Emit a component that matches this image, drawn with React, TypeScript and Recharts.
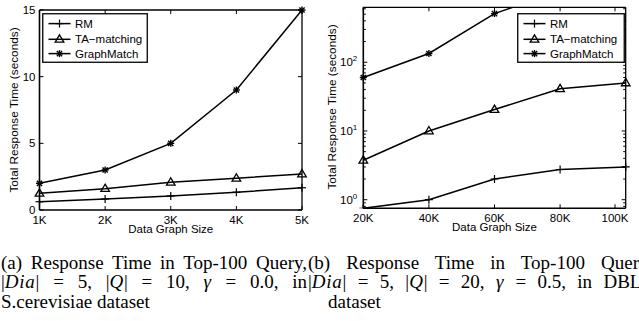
import React from 'react';
import { LineChart, Line, XAxis, YAxis, Legend, ReferenceLine } from 'recharts';

// ---------- data ----------
const seriesNames = ['RM', 'TA\u2212matching', 'GraphMatch'];

const sizesA = [1000, 2000, 3000, 4000, 5000];
const rmA = [0.62, 0.83, 1.05, 1.33, 1.67];
const taA = [1.25, 1.6, 2.08, 2.38, 2.7];
const gmA = [2.0, 3.0, 5.0, 9.0, 15.0];
const yTicksA = [0, 5, 10, 15];

const sizesB = [20000, 40000, 60000, 80000, 100000];
const rmB = [0.75, 1.0, 2.0, 2.75, 3.0];
const taB = [3.75, 10, 20.5, 41, 50];
const gmB = [60, 134, 510, 1100, 2000];
const yMajorB = [1, 10, 100];
const yMinorB = [0.8, 0.9, 2, 3, 4, 5, 6, 7, 8, 9, 20, 30, 40, 50, 60, 70, 80, 90, 200, 300, 400, 500, 600];

const dataA = sizesA.map((x, i) => ({ x, rm: rmA[i], ta: taA[i], gm: gmA[i] }));
const dataB = sizesB.map((x, i) => ({ x, rm: rmB[i], ta: taB[i], gm: gmB[i] }));

const FONT = '"Liberation Sans", Arial, Helvetica, sans-serif';
const SERIF = '"Liberation Serif", "Times New Roman", serif';

// ---------- markers ----------
const Plus = ({ cx, cy }: any) => (
  <g stroke="#000" strokeWidth={1.2}>
    <line x1={cx - 4} x2={cx + 4} y1={cy} y2={cy} />
    <line x1={cx} x2={cx} y1={cy - 4} y2={cy + 4} />
  </g>
);
const Tri = ({ cx, cy }: any) => (
  <polygon
    points={`${cx},${cy - 4.5} ${cx + 4.3},${cy + 2.8} ${cx - 4.3},${cy + 2.8}`}
    fill="none"
    stroke="#000"
    strokeWidth={1.3}
  />
);
const Star = ({ cx, cy }: any) => (
  <g stroke="#000" strokeWidth={1.4}>
    <line x1={cx - 3.5} x2={cx + 3.5} y1={cy} y2={cy} />
    <line x1={cx} x2={cx} y1={cy - 3.5} y2={cy + 3.5} />
    <line x1={cx - 2.6} x2={cx + 2.6} y1={cy - 2.6} y2={cy + 2.6} />
    <line x1={cx - 2.6} x2={cx + 2.6} y1={cy + 2.6} y2={cy - 2.6} />
  </g>
);
const markers = [Plus, Tri, Star];

const dotFn = (M: any) => (p: any) => {
  if (p.cx == null || p.cy == null || isNaN(p.cx) || isNaN(p.cy)) return <g key={`n${p.index}`} />;
  return <M key={`d${p.index}`} cx={p.cx} cy={p.cy} />;
};

// ---------- legend ----------
const LegendBox = ({ w }: { w: number }) => {
  const rows = [10.6, 26.3, 40.6];
  return (
    <svg width={w} height={50} style={{ display: 'block' }}>
      <rect x={0.75} y={0.75} width={w - 1.5} height={48.5} fill="#fff" stroke="#000" strokeWidth={1.3} />
      {seriesNames.map((n, i) => {
        const M = markers[i];
        const y = rows[i];
        return (
          <g key={n}>
            <line x1={6.5} x2={28.5} y1={y} y2={y} stroke="#000" strokeWidth={1.5} />
            <M cx={17.5} cy={y} />
            <text x={33} y={y + 4} fontFamily={FONT} fontSize={11.5} fill="#000">
              {n}
            </text>
          </g>
        );
      })}
    </svg>
  );
};

// ---------- geometry of plot boxes ----------
const A = { l: 39.5, r: 302, t: 10, b: 210 };
const B = { l: 43.3, r: 305.7, t: 7.3, b: 208.3 };

const XTick = (G: any, fmt: (v: number) => string) => (p: any) => {
  const x = p.x;
  return (
    <g>
      <line x1={x} x2={x} y1={G.b} y2={G.b - 4} stroke="#000" strokeWidth={1} />
      <line x1={x} x2={x} y1={G.t} y2={G.t + 4} stroke="#000" strokeWidth={1} />
      <text x={x} y={G.b + 13.5} textAnchor="middle" fontFamily={FONT} fontSize={11.5} fill="#000">
        {fmt(p.payload.value)}
      </text>
    </g>
  );
};

const YTickA = (p: any) => {
  const y = p.y;
  return (
    <g>
      <line x1={A.l} x2={A.l + 4} y1={y} y2={y} stroke="#000" strokeWidth={1} />
      <line x1={A.r} x2={A.r - 4} y1={y} y2={y} stroke="#000" strokeWidth={1} />
      <text x={A.l - 4} y={y + 4} textAnchor="end" fontFamily={FONT} fontSize={11.5} fill="#000">
        {p.payload.value}
      </text>
    </g>
  );
};

const YTickB = (p: any) => {
  const y = p.y;
  const v = p.payload.value;
  const major = yMajorB.indexOf(v) >= 0;
  const len = major ? 4 : 2.5;
  return (
    <g>
      <line x1={B.l} x2={B.l + len} y1={y} y2={y} stroke="#000" strokeWidth={1} />
      <line x1={B.r} x2={B.r - len} y1={y} y2={y} stroke="#000" strokeWidth={1} />
      {major ? (
        <text x={B.l - 6} y={y + 4} textAnchor="end" fontFamily={FONT} fontSize={11.5} fill="#000">
          <tspan>10</tspan>
          <tspan dy={-5} fontSize={8}>
            {Math.round(Math.log10(v))}
          </tspan>
        </text>
      ) : null}
    </g>
  );
};

const yLabel = (cx: number, cy: number) => () => (
  <text
    x={cx}
    y={cy}
    transform={`rotate(-90 ${cx} ${cy})`}
    textAnchor="middle"
    dominantBaseline="central"
    fontFamily={FONT}
    fontSize={11.8}
    fill="#000"
  >
    Total Response Time (seconds)
  </text>
);
const xLabel = (cx: number, y: number) => () => (
  <text x={cx} y={y} textAnchor="middle" fontFamily={FONT} fontSize={11.5} fill="#000">
    Data Graph Size
  </text>
);

const fmtK = (v: number) => `${v / 1000}K`;

const PanelA = () => (
  <LineChart width={320} height={240} data={dataA} margin={{ top: A.t, right: 320 - A.r, bottom: 0, left: 0 }}>
    <XAxis
      dataKey="x"
      type="number"
      domain={[1000, 5000]}
      ticks={sizesA}
      height={240 - A.b}
      tickLine={false}
      axisLine={{ stroke: '#000', strokeWidth: 1.6 }}
      tick={XTick(A, fmtK)}
      label={{ content: xLabel((A.l + A.r) / 2, 232.5) }}
    />
    <YAxis
      type="number"
      domain={[0, 15]}
      ticks={yTicksA}
      width={A.l}
      tickLine={false}
      axisLine={{ stroke: '#000', strokeWidth: 1.6 }}
      tick={YTickA}
      label={{ content: yLabel(13.5, 110) }}
    />
    <ReferenceLine x={5000} stroke="#000" strokeWidth={1.3} />
    <ReferenceLine y={15} stroke="#000" strokeWidth={1.3} />
    <Line dataKey="rm" name={seriesNames[0]} stroke="#000" strokeWidth={1.5} dot={dotFn(Plus)} isAnimationActive={false} />
    <Line dataKey="ta" name={seriesNames[1]} stroke="#000" strokeWidth={1.5} dot={dotFn(Tri)} isAnimationActive={false} />
    <Line dataKey="gm" name={seriesNames[2]} stroke="#000" strokeWidth={1.5} dot={dotFn(Star)} isAnimationActive={false} />
    <Legend
      layout="vertical"
      align="center"
      verticalAlign="middle"
      content={() => <LegendBox w={106} />}
      wrapperStyle={{ position: 'absolute', left: 41.5, top: 12.5, width: 106, height: 50, bottom: 'auto', right: 'auto' }}
    />
  </LineChart>
);

const PanelB = () => (
  <LineChart width={319} height={240} data={dataB} margin={{ top: B.t, right: 319 - B.r, bottom: 0, left: 0 }}>
    <XAxis
      dataKey="x"
      type="number"
      domain={[20000, 100000]}
      ticks={sizesB}
      height={240 - B.b}
      tickLine={false}
      axisLine={{ stroke: '#000', strokeWidth: 1.6 }}
      tick={XTick(B, fmtK)}
      label={{ content: xLabel((B.l + B.r) / 2, 230.5) }}
    />
    <YAxis
      type="number"
      scale="log"
      domain={[0.75, 630]}
      allowDataOverflow
      ticks={[...yMajorB, ...yMinorB].sort((a, b) => a - b)}
      interval={0}
      width={B.l}
      tickLine={false}
      axisLine={{ stroke: '#000', strokeWidth: 1.6 }}
      tick={YTickB}
      label={{ content: yLabel(11.5, 107) }}
    />
    <ReferenceLine x={100000} stroke="#000" strokeWidth={1.3} />
    <ReferenceLine y={630} stroke="#000" strokeWidth={1.3} ifOverflow="visible" />
    <Line dataKey="rm" name={seriesNames[0]} stroke="#000" strokeWidth={1.5} dot={dotFn(Plus)} isAnimationActive={false} />
    <Line dataKey="ta" name={seriesNames[1]} stroke="#000" strokeWidth={1.5} dot={dotFn(Tri)} isAnimationActive={false} />
    <Line dataKey="gm" name={seriesNames[2]} stroke="#000" strokeWidth={1.5} dot={dotFn(Star)} isAnimationActive={false} />
    <Legend
      layout="vertical"
      align="center"
      verticalAlign="middle"
      content={() => <LegendBox w={108} />}
      wrapperStyle={{ position: 'absolute', left: 196.5, top: 12.5, width: 108, height: 50, bottom: 'auto', right: 'auto' }}
    />
  </LineChart>
);

// ---------- captions ----------
const cap: React.CSSProperties = {
  position: 'absolute',
  fontFamily: SERIF,
  fontSize: 19,
  lineHeight: '19.5px',
  whiteSpace: 'nowrap',
  color: '#000',
};
const just: React.CSSProperties = {
  ...cap,
  whiteSpace: 'normal',
  textAlign: 'justify',
  textAlignLast: 'justify',
};
const mi: React.CSSProperties = { fontStyle: 'italic', letterSpacing: '0.04em' };

export default function App() {
  return (
    <div style={{ position: 'absolute', left: 0, top: 0, width: 639, height: 321, overflow: 'hidden', background: '#fff' }}>
      <div style={{ position: 'absolute', left: 0, top: 0 }}>
        <PanelA />
      </div>
      <div style={{ position: 'absolute', left: 320, top: 0 }}>
        <PanelB />
      </div>
      <div style={{ ...just, left: 1, top: 252.5, width: 306 }}>(a) Response Time in Top-100 Query,</div>
      <div style={{ ...just, left: 1, top: 272, width: 306 }}>
        |<span style={mi}>Dia</span>| = 5, |<span style={mi}>Q</span>| = 10, <span style={mi}>γ</span> = 0.0, in
      </div>
      <div style={{ ...cap, left: 1, top: 291.5 }}>S.cerevisiae dataset</div>
      <div style={{ ...just, left: 308, top: 252.5, width: 344 }}>(b) Response Time in Top-100 Query,</div>
      <div style={{ ...just, left: 308, top: 272, width: 344 }}>
        |<span style={mi}>Dia</span>| = 5, |<span style={mi}>Q</span>| = 20, <span style={mi}>γ</span> = 0.5, in DBLP
      </div>
      <div style={{ ...cap, left: 328, top: 291.5 }}>dataset</div>
    </div>
  );
}
